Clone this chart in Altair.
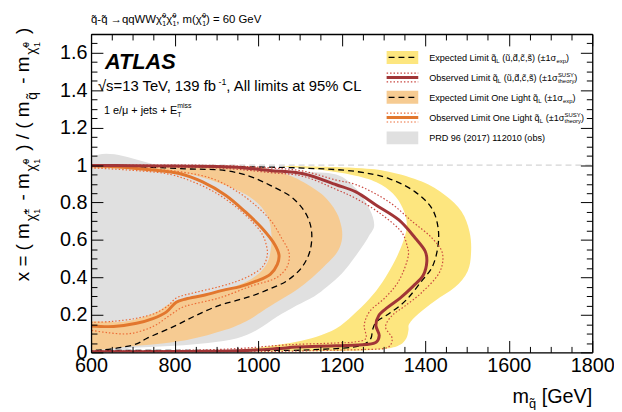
import altair as alt
import pandas as pd

# ---------------- values: m(q~) [GeV] and x ----------------
gray_m = [580, 800, 1000, 1100, 1187, 1234, 1266, 1278, 1265, 1245, 1222, 1200, 1165, 1135, 1092, 1045, 998, 950, 880, 800, 700, 580]
gray_x = [0.99, 0.985, 0.975, 0.965, 0.95, 0.875, 0.77, 0.68, 0.62, 0.55, 0.48, 0.42, 0.35, 0.30, 0.25, 0.19, 0.12, 0.075, 0.05, 0.035, 0.025, 0.02]

band1l_m = [580, 800, 950, 1029, 1075, 1108, 1155, 1187, 1200, 1200, 1188, 1163, 1130, 1090, 1050, 1010, 975, 922, 827, 709, 580,
            580, 669, 720, 760, 790, 820, 906, 969, 1001, 1020, 1029, 1032, 1021, 985, 922, 827, 700, 580]
band1l_x = [0.998, 0.998, 0.995, 0.978, 0.945, 0.91, 0.84, 0.75, 0.665, 0.593, 0.53, 0.47, 0.40, 0.33, 0.275, 0.22, 0.17, 0.12, 0.065, 0.035, 0.02,
            0.155, 0.162, 0.185, 0.22, 0.262, 0.285, 0.325, 0.375, 0.42, 0.47, 0.53, 0.628, 0.734, 0.822, 0.892, 0.954, 0.978, 0.985]

bandsq_m = [1060, 1234, 1313, 1392, 1447, 1487, 1506, 1510, 1502, 1471, 1424, 1384, 1362, 1360, 1355, 1340, 1310, 1250, 1100, 960,
            960, 1000, 1045, 1092, 1140, 1187, 1226, 1266, 1297, 1329, 1349, 1356, 1350, 1330, 1295, 1240, 1150]
bandsq_x = [0.995, 0.985, 0.965, 0.912, 0.84, 0.752, 0.646, 0.54, 0.435, 0.347, 0.276, 0.206, 0.153, 0.118, 0.075, 0.04, 0.02, 0.01, 0.006, 0.006,
            0.015, 0.025, 0.039, 0.056, 0.083, 0.127, 0.197, 0.285, 0.373, 0.496, 0.602, 0.68, 0.75, 0.83, 0.895, 0.94, 0.975]

expsq_m = [600, 800, 1000, 1108, 1234, 1313, 1376, 1416, 1431, 1430, 1416, 1392, 1353, 1313, 1282, 1274, 1270, 1250, 1132, 1000, 800, 600]
expsq_x = [0.995, 0.994, 0.99, 0.984, 0.966, 0.928, 0.857, 0.769, 0.664, 0.558, 0.452, 0.382, 0.276, 0.206, 0.16, 0.12, 0.075, 0.04, 0.014, 0.01, 0.01, 0.01]

obssq_m = [600, 700, 800, 900, 950, 1029, 1108, 1187, 1234, 1282, 1337, 1376, 1400, 1404, 1395, 1372, 1340, 1310, 1289, 1282,
           1290, 1283, 1258, 1187, 1092, 1045, 950, 800, 600]
obssq_x = [0.998, 0.997, 0.995, 0.992, 0.989, 0.971, 0.954, 0.895, 0.857, 0.787, 0.707, 0.611, 0.54, 0.487, 0.41, 0.355, 0.29, 0.24, 0.197, 0.144,
           0.09, 0.055, 0.042, 0.035, 0.028, 0.02, 0.008, 0.004, 0.003]

obssq_up_m = [600, 900, 1029, 1108, 1187, 1234, 1313, 1369, 1416, 1441, 1436, 1392, 1350, 1321, 1305, 1321, 1313, 1250, 1187, 1069, 950, 800, 600]
obssq_up_x = [1.0, 0.998, 0.985, 0.968, 0.92, 0.896, 0.804, 0.699, 0.611, 0.532, 0.435, 0.32, 0.245, 0.197, 0.136, 0.074, 0.03, 0.015, 0.012, 0.006, 0.002, 0.001, 0.001]
obssq_dn_m = [600, 900, 1029, 1108, 1187, 1234, 1297, 1345, 1357, 1360, 1337, 1305, 1266, 1254, 1258, 1230, 1187, 1069, 950, 800, 600]
obssq_dn_x = [0.99, 0.985, 0.96, 0.94, 0.87, 0.822, 0.734, 0.637, 0.567, 0.523, 0.382, 0.294, 0.215, 0.144, 0.074, 0.055, 0.05, 0.04, 0.02, 0.01, 0.008]

obs1l_m = [600, 669, 740, 811, 867, 922, 969, 1009, 1040, 1050, 1046, 1029, 995, 955, 922, 870, 827, 804, 780, 748, 709, 654, 600]
obs1l_x = [0.998, 0.99, 0.975, 0.955, 0.91, 0.839, 0.751, 0.664, 0.575, 0.52, 0.47, 0.417, 0.38, 0.35, 0.335, 0.305, 0.285, 0.268, 0.215, 0.18, 0.155, 0.138, 0.141]
obs1l_up_m = [600, 700, 811, 890, 945, 993, 1032, 1056, 1074, 1070, 1045, 985, 906, 840, 819, 790, 750, 693, 640, 600]
obs1l_up_x = [0.995, 0.985, 0.965, 0.928, 0.866, 0.787, 0.699, 0.611, 0.532, 0.46, 0.40, 0.355, 0.29, 0.255, 0.241, 0.2, 0.14, 0.10, 0.105, 0.118]
obs1l_dn_m = [600, 700, 790, 850, 900, 945, 985, 1010, 1020, 1022, 1012, 985, 950, 906, 850, 804, 785, 755, 709, 650, 600]
obs1l_dn_x = [0.985, 0.972, 0.95, 0.905, 0.85, 0.78, 0.70, 0.63, 0.57, 0.52, 0.46, 0.415, 0.38, 0.35, 0.32, 0.29, 0.25, 0.21, 0.182, 0.165, 0.16]

exp1l_m = [600, 700, 827, 922, 980, 1029, 1084, 1116, 1128, 1124, 1104, 1069, 1029, 990, 953, 906, 851, 796, 733, 709, 669, 622, 600]
exp1l_x = [0.997, 0.992, 0.98, 0.971, 0.94, 0.892, 0.822, 0.734, 0.646, 0.54, 0.452, 0.382, 0.34, 0.305, 0.28, 0.25, 0.197, 0.136, 0.074, 0.045, 0.025, 0.012, 0.01]

x_major = [600, 800, 1000, 1200, 1400, 1600, 1800]
x_minor = list(range(600, 1801, 50))
y_major = [0, 0.2, 0.4, 0.6, 0.8, 1.0, 1.2, 1.4, 1.6]
y_minor = [round(i * 0.05, 2) for i in range(35)]

legend_labels = [
    [("Expected Limit q\u0303", "n"), ("L", "sub"), (" (u\u0303,d\u0303,c\u0303,s\u0303) (\u00b11\u03c3", "n"), ("exp", "sub"), (")", "n")],
    [("Observed Limit q\u0303", "n"), ("L", "sub"), (" (u\u0303,d\u0303,c\u0303,s\u0303) (\u00b11\u03c3", "n"), ("SUSY", "supst"), ("theory", "sub"), (")", "n")],
    [("Expected Limit One Light q\u0303", "n"), ("L", "sub"), (" (\u00b11\u03c3", "n"), ("exp", "sub"), (")", "n")],
    [("Observed Limit One Light q\u0303", "n"), ("L", "sub"), (" (\u00b11\u03c3", "n"), ("SUSY", "supst"), ("theory", "sub"), (")", "n")],
    [("PRD 96 (2017) 112010 (obs)", "n")],
]

# ---------------- styles ----------------
YELLOW = "#fde67f"
TAN = "#f6cb92"
GRAY = "#e0e0e0"
MAROON = "#a13537"
MAROON_DOT = "#c9463f"
ORANGE = "#e2772e"
ORANGE_DOT = "#ec6a35"
FONT = "Liberation Sans"

M0, M1, X0, X1 = 600, 1800, 0.0, 1.7
PW, PH = 507, 322
LEFT, TOP = 92, 32   # page position of the plot origin


def pm(px):
    return M0 + (px - LEFT) * (M1 - M0) / PW


def pxv(py):
    return X1 - (py - TOP) * (X1 - X0) / PH


XS = alt.Scale(domain=[M0, M1], nice=False, zero=False)
YS = alt.Scale(domain=[X0, X1], nice=False, zero=False)


def ex(field="m", axis=None):
    return alt.X(f"{field}:Q", scale=XS, axis=axis)


def ey(field="xv", axis=None):
    return alt.Y(f"{field}:Q", scale=YS, axis=axis)


def poly(ms, xs, color):
    df = pd.DataFrame({"m": ms, "xv": xs, "i": list(range(len(ms)))})
    return alt.Chart(df).mark_line(
        fill=color, color=color, strokeWidth=0, interpolate="cardinal-closed", clip=True
    ).encode(x=ex(), y=ey(), order="i:Q")


def curve(ms, xs, color, width, dash=None):
    df = pd.DataFrame({"m": ms, "xv": xs, "i": list(range(len(ms)))})
    kw = dict(color=color, strokeWidth=width, interpolate="catmull-rom", clip=True)
    if dash:
        kw["strokeDash"] = dash
    return alt.Chart(df).mark_line(**kw).encode(x=ex(), y=ey(), order="i:Q")


# ---------------- rich-text helper (Arial/Liberation metrics) ----------------
W = {" ": 278, "!": 278, "%": 889, "(": 333, ")": 333, "+": 584, ",": 278, "-": 333, ".": 278, "/": 278,
     "=": 584, "[": 278, "]": 278, "\u03c7": 550, "\u03c3": 600, "\u03bc": 577, "\u00b1": 584,
     "\u2192": 1000, "\u221a": 549, "\u0303": 0}
W.update({d: 556 for d in "0123456789"})
W.update(dict(zip("abcdefghijklmnopqrstuvwxyz",
                  [556, 556, 500, 556, 556, 278, 556, 556, 222, 222, 500, 222, 833, 556, 556, 556, 556, 333, 500, 278, 556, 500, 722, 500, 500, 500])))
W.update(dict(zip("ABCDEFGHIJKLMNOPQRSTUVWXYZ",
                  [667, 667, 722, 722, 667, 611, 778, 722, 278, 500, 667, 556, 833, 722, 778, 667, 778, 722, 667, 611, 722, 667, 944, 667, 667, 611])))


def tw(s, fs):
    return sum(W.get(c, 556) for c in s) * fs / 1000.0


def rich(px, py, segs, angle=0, col="black"):
    """segs: (text, fontsize, baseline shift (+ = down), advance?) ; text None = extra gap of `fontsize` px"""
    rows, adv = [], 0.0
    for text, fs, shift, move in segs:
        if text is None:
            adv += fs
            continue
        body = text.lstrip(" ")
        off = adv + tw(text[: len(text) - len(body)], fs)
        if angle == 0:
            x, y = px + off, py + shift
        else:
            x, y = px + shift, py - off
        rows.append({"m": pm(x), "xv": pxv(y), "t": body, "fs": fs, "ang": angle, "col": col})
        if move:
            adv += tw(text, fs)
    return rows


def width_of(segs):
    return sum((fs if t is None else tw(t, fs)) for t, fs, sh, mv in segs if mv or t is None)


texts = []
chi = "\u03c7\u0303"
# header
hs = 11.5
texts += rich(92, 21, [("q\u0303-q\u0303 \u2192qqWW" + chi, hs, 0, True), ("0", 7, -5, False), ("1", 7, 2.5, True),
                       (chi, hs, 0, True), ("0", 7, -5, False), ("1", 7, 2.5, True),
                       (", m(" + chi, hs, 0, True), ("0", 7, -5, False), ("1", 7, 2.5, True),
                       (") = 60 GeV", hs, 0, True)])
# energy / lumi line
texts += rich(99, 90, [("\u221as=13 TeV, 139 fb", 15, 0, True), (None, -1, 0, True), ("-1", 9, -6, True),
                       (", All limits at 95% CL", 15, 0, True)])
texts += rich(105, 113, [("1 e/\u03bc + jets + E", 11, 0, True), ("T", 7, 3, False), ("miss", 7, -6, True)])
# y title (rotated)
yt = [("x = ( m", 19, 0, True), (None, 2, 0, True),
      (chi, 14, 7, True), ("\u00b1", 9, 0, False), ("1", 9, 11, True), (None, 3, 0, True),
      (" - m", 19, 0, True), (None, 2, 0, True),
      (chi, 14, 7, True), ("0", 9, 0, False), ("1", 9, 11, True), (None, 3, 0, True),
      (" ) / ( m", 19, 0, True), (None, 2, 0, True), ("q\u0303", 14, 8, True), (None, 3, 0, True),
      (" - m", 19, 0, True), (None, 2, 0, True),
      (chi, 14, 7, True), ("0", 9, 0, False), ("1", 9, 11, True), (None, 3, 0, True),
      (" )", 19, 0, True)]
texts += rich(29, 282, yt, angle=270)
# x title
xt = [("m", 20, 0, True), ("q\u0303", 13, 5, True), (" [GeV]", 20, 0, True)]
texts += rich(599 - width_of(xt), 405, xt)

# legend
LFS = 9.2
row_y = [55.7, 76, 96, 116.5, 137]
for label, cy in zip(legend_labels, row_y):
    segs = []
    for t, kind in label:
        if kind == "n":
            segs.append((t, LFS, 0, True))
        elif kind == "sub":
            segs.append((t, LFS * 0.65, 2.5, True))
        else:
            segs.append((t, LFS * 0.65, -4, False))
    texts += rich(434, cy + 3.3, segs)

text_df = pd.DataFrame(texts)
text_layer = alt.Chart(text_df).mark_text(align="left", baseline="alphabetic", font=FONT).encode(
    x=ex(), y=ey(), text="t:N",
    size=alt.Size("fs:Q", scale=None, legend=None),
    angle=alt.Angle("ang:Q", scale=None, legend=None),
    color=alt.Color("col:N", scale=None, legend=None),
)
atlas = alt.Chart(pd.DataFrame({"m": [pm(106)], "xv": [pxv(67)], "t": ["ATLAS"]})).mark_text(
    align="left", baseline="alphabetic", font=FONT, fontSize=22, fontStyle="italic", fontWeight="bold", color="black"
).encode(x=ex(), y=ey(), text="t:N")

# legend symbols
p0, p1 = pm(391), pm(423)
rect_df = pd.DataFrame({
    "m": [p0, p0, p0], "m2": [p1, p1, p1],
    "xv": [pxv(row_y[0] - 6.5), pxv(row_y[2] - 6.5), pxv(row_y[4] - 6.5)],
    "xv2": [pxv(row_y[0] + 6.5), pxv(row_y[2] + 6.5), pxv(row_y[4] + 6.5)],
    "col": [YELLOW, TAN, GRAY],
})
leg_rect = alt.Chart(rect_df).mark_rect().encode(
    x=ex(), x2="m2", y=ey(), y2="xv2", color=alt.Color("col:N", scale=None, legend=None))
dash_df = pd.DataFrame({"m": [pm(393), pm(393)], "m2": [pm(421), pm(421)], "xv": [pxv(row_y[0]), pxv(row_y[2])]})
leg_dash = alt.Chart(dash_df).mark_rule(color="black", strokeWidth=1.3, strokeDash=[6, 4]).encode(
    x=ex(), x2="m2", y=ey())
solid_df = pd.DataFrame({"m": [p0, p0], "m2": [p1, p1], "xv": [pxv(row_y[1]), pxv(row_y[3])], "col": [MAROON, ORANGE]})
leg_solid = alt.Chart(solid_df).mark_rule(strokeWidth=3).encode(
    x=ex(), x2="m2", y=ey(), color=alt.Color("col:N", scale=None, legend=None))
dot_df = pd.DataFrame({"m": [p0] * 4, "m2": [p1] * 4,
                       "xv": [pxv(row_y[1] - 4.5), pxv(row_y[1] + 4.5), pxv(row_y[3] - 4.5), pxv(row_y[3] + 4.5)],
                       "col": [MAROON_DOT, MAROON_DOT, ORANGE_DOT, ORANGE_DOT]})
leg_dot = alt.Chart(dot_df).mark_rule(strokeWidth=1.2, strokeDash=[1.5, 2]).encode(
    x=ex(), x2="m2", y=ey(), color=alt.Color("col:N", scale=None, legend=None))

# reference line at x = 1
ref_df = pd.DataFrame({"m": [M0], "m2": [M1], "xv": [1.0]})
ref_line = alt.Chart(ref_df).mark_rule(color="#c8c8c8", strokeWidth=1, strokeDash=[6, 4]).encode(
    x=ex(), x2="m2", y=ey())

# ---------------- axes ----------------
X_MAJ = "datum.value % 200 === 0"
Y_MAJ = "abs(datum.value * 5 - round(datum.value * 5)) < 0.000001"


def tick_axis(orient, offset, values, test):
    return alt.Axis(orient=orient, offset=offset, values=values, labels=False, title=None, grid=False,
                    tickSize={"condition": {"test": test, "value": 12}, "value": 6},
                    tickColor="black", tickWidth=1, domain=True, domainColor="black", domainWidth=1.3, zindex=1)


lab_x = alt.Axis(orient="bottom", values=x_major, ticks=False, domain=False, grid=False, title=None,
                 labelFont=FONT, labelFontSize=20, labelColor="black", labelPadding=3, labelFlush=False,
                 labelOverlap=False, format="d")
lab_y = alt.Axis(orient="left", values=y_major, ticks=False, domain=False, grid=False, title=None,
                 labelFont=FONT, labelFontSize=20, labelColor="black", labelPadding=4, labelFlush=False,
                 labelOverlap=False, labelExpr="format(datum.value, '.1~f')")

axis_layers = [
    alt.Chart(ref_df).mark_point(opacity=0).encode(x=ex(axis=lab_x), y=ey(axis=lab_y)),
    alt.Chart(ref_df).mark_point(opacity=0).encode(
        x=ex(axis=tick_axis("top", -PH, x_minor, X_MAJ)), y=ey(axis=tick_axis("right", -PW, y_minor, Y_MAJ))),
    alt.Chart(ref_df).mark_point(opacity=0).encode(
        x=ex(axis=tick_axis("bottom", -PH, x_minor, X_MAJ)), y=ey(axis=tick_axis("left", -PW, y_minor, Y_MAJ))),
]

layers = [
    poly(bandsq_m, bandsq_x, YELLOW),
    poly(gray_m, gray_x, GRAY),
    poly(band1l_m, band1l_x, TAN),
    ref_line,
    curve(exp1l_m, exp1l_x, "black", 1.3, [6, 4]),
    curve(expsq_m, expsq_x, "black", 1.3, [6, 4]),
    curve(obs1l_up_m, obs1l_up_x, ORANGE_DOT, 1.2, [1.5, 2]),
    curve(obs1l_dn_m, obs1l_dn_x, ORANGE_DOT, 1.2, [1.5, 2]),
    curve(obssq_up_m, obssq_up_x, MAROON_DOT, 1.2, [1.5, 2]),
    curve(obssq_dn_m, obssq_dn_x, MAROON_DOT, 1.2, [1.5, 2]),
    curve(obs1l_m, obs1l_x, ORANGE, 3),
    curve(obssq_m, obssq_x, MAROON, 3),
    leg_rect, leg_dash, leg_solid, leg_dot,
    text_layer, atlas,
] + axis_layers

chart = alt.layer(*layers).resolve_axis(x="independent", y="independent").properties(
    width=PW, height=PH, autosize=alt.AutoSizeParams(type="none"),
    padding={"left": LEFT - 8, "top": TOP - 8, "right": 22, "bottom": 56},
).configure_view(strokeWidth=0).configure(background="white")

chart.save("out.html", embed_options={"renderer": "svg", "actions": False})
